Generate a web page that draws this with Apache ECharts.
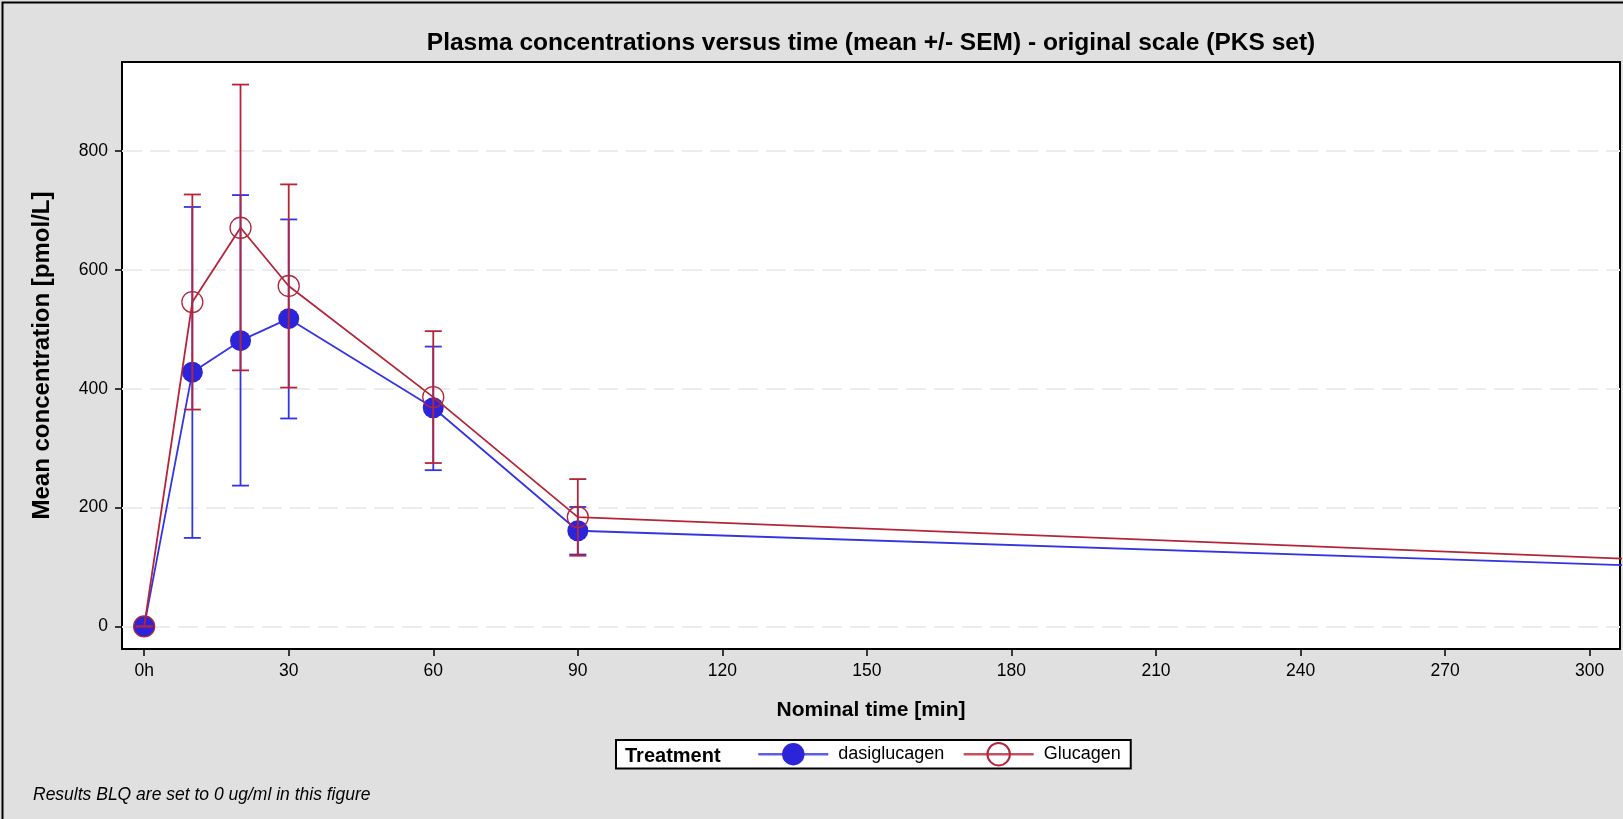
<!DOCTYPE html>
<html><head><meta charset="utf-8">
<script src="https://cdn.jsdelivr.net/npm/echarts@6/dist/echarts.min.js"></script>
<style>html,body{margin:0;padding:0;background:#e0e0e0}#c{width:1623px;height:819px}</style>
</head><body><div id="c"></div>
<script>
// Nominal time [min]; last point lies beyond the visible axis (line runs off the plot edge)
const times = [0, 10, 20, 30, 60, 90, 360];
const dasiMean = [0, 428, 481, 518, 368, 161, 89];
const dasiLow  = [0, 149, 237, 350, 263, 121, null];
const dasiHigh = [0, 706, 726, 685, 471, 201, null];
const glucMean = [0, 546, 671, 573, 386, 184, 97];
const glucLow  = [0, 365, 431, 402, 275, 119, null];
const glucHigh = [0, 727, 912, 744, 497, 248, null];
const xTicks = [0, 30, 60, 90, 120, 150, 180, 210, 240, 270, 300];
const yTicks = [0, 200, 400, 600, 800];
const seriesNames = ['dasiglucagen', 'Glucagen'];

const FONT = '"Liberation Sans", Arial, sans-serif';
const BLUE = '#2b24d8', BLUE_LINE = '#3434e4', RED = '#b5253a';

function errSeries(name, color, low, high, z) {
  const data = [];
  times.forEach((t, i) => { if (high[i] != null) data.push([t, low[i], high[i]]); });
  return {
    type: 'custom', name, z, clip: true, silent: true,
    encode: { x: 0, y: [1, 2] },
    data,
    renderItem(params, api) {
      const x = api.value(0), lo = api.value(1), hi = api.value(2);
      const pLo = api.coord([x, lo]), pHi = api.coord([x, hi]);
      const w = 8.5;
      const style = { stroke: color, lineWidth: 1.8 };
      return { type: 'group', children: [
        { type: 'line', shape: { x1: pLo[0], y1: pLo[1], x2: pHi[0], y2: pHi[1] }, style },
        { type: 'line', shape: { x1: pLo[0] - w, y1: pLo[1], x2: pLo[0] + w, y2: pLo[1] }, style },
        { type: 'line', shape: { x1: pHi[0] - w, y1: pHi[1], x2: pHi[0] + w, y2: pHi[1] }, style }
      ]};
    }
  };
}

const chart = echarts.init(document.getElementById('c'), null, { renderer: 'canvas' });
chart.setOption({
  backgroundColor: '#e0e0e0',
  animation: false,
  textStyle: { fontFamily: FONT },
  title: {
    text: 'Plasma concentrations versus time (mean +/- SEM) - original scale (PKS set)',
    left: 866, top: 26, textAlign: 'center',
    textStyle: { fontFamily: FONT, fontSize: 24.5, fontWeight: 'bold', color: '#000' }
  },
  grid: {
    left: 122, top: 62, right: 3, bottom: 170,
    show: true, backgroundColor: '#fff', borderColor: '#000', borderWidth: 2
  },
  xAxis: {
    type: 'value', min: -4.6, max: 306.3,
    name: 'Nominal time [min]', nameLocation: 'middle', nameGap: 51,
    nameTextStyle: { fontFamily: FONT, fontSize: 21, fontWeight: 'bold', color: '#000' },
    axisLine: { show: false, onZero: false },
    axisTick: { show: true, customValues: xTicks, length: 7, lineStyle: { color: '#000', width: 1.5 } },
    axisLabel: { customValues: xTicks, margin: 13, fontFamily: FONT, fontSize: 17.5, color: '#000',
      formatter: v => (v === 0 ? '0h' : String(v)) },
    splitLine: { show: false }
  },
  yAxis: {
    type: 'value', min: -38, max: 950,
    name: 'Mean concentration [pmol/L]', nameLocation: 'middle', nameGap: 68, nameRotate: 90,
    nameTextStyle: { fontFamily: FONT, fontSize: 24, fontWeight: 'bold', color: '#000' },
    axisLine: { show: false, onZero: false },
    axisTick: { show: true, customValues: yTicks, length: 7, lineStyle: { color: '#000', width: 1.5 } },
    axisLabel: { customValues: yTicks, margin: 14, fontFamily: FONT, fontSize: 17.5, color: '#000' },
    splitLine: { show: true, lineStyle: { color: '#ececec', width: 2, type: [20, 8] } }
  },
  legend: {
    data: seriesNames,
    left: 616, top: 740,
    orient: 'horizontal',
    backgroundColor: '#fff', borderColor: '#000', borderWidth: 2,
    padding: [2, 10, 2, 141],
    itemWidth: 70, itemHeight: 28, itemGap: 18,
    lineStyle: { width: 2.6, opacity: 0.8 },
    textStyle: { fontFamily: FONT, fontSize: 18, color: '#000', padding: [0, 0, 0, 5] }
  },
  graphic: [
    { type: 'text', left: 625, top: 746, z: 100,
      style: { text: 'Treatment', font: 'bold 20px "Liberation Sans", Arial, sans-serif', fill: '#000' } },
    { type: 'text', left: 33, top: 786,
      style: { text: 'Results BLQ are set to 0 ug/ml in this figure', font: 'italic 17.5px "Liberation Sans", Arial, sans-serif', fill: '#000' } },
    { type: 'rect', left: 0, top: 0, shape: { x: 1, y: 1, width: 1700, height: 900 },
      style: { fill: 'none', stroke: '#000', lineWidth: 2 }, silent: true }
  ],
  series: [
    {
      name: seriesNames[0], type: 'line', z: 2, clip: true,
      data: times.map((t, i) => [t, dasiMean[i]]),
      symbol: 'circle', symbolSize: 21,
      itemStyle: { color: BLUE },
      lineStyle: { color: BLUE_LINE, width: 1.8 }
    },
    errSeries('dasiglucagen SEM', BLUE_LINE, dasiLow, dasiHigh, 3),
    {
      name: seriesNames[1], type: 'line', z: 4, clip: true,
      data: times.map((t, i) => [t, glucMean[i]]),
      symbol: 'circle', symbolSize: 21,
      itemStyle: { color: 'rgba(0,0,0,0)', borderColor: RED, borderWidth: 1.3 },
      lineStyle: { color: RED, width: 1.8 }
    },
    errSeries('Glucagen SEM', RED, glucLow, glucHigh, 5)
  ]
});
</script>
</body></html>
